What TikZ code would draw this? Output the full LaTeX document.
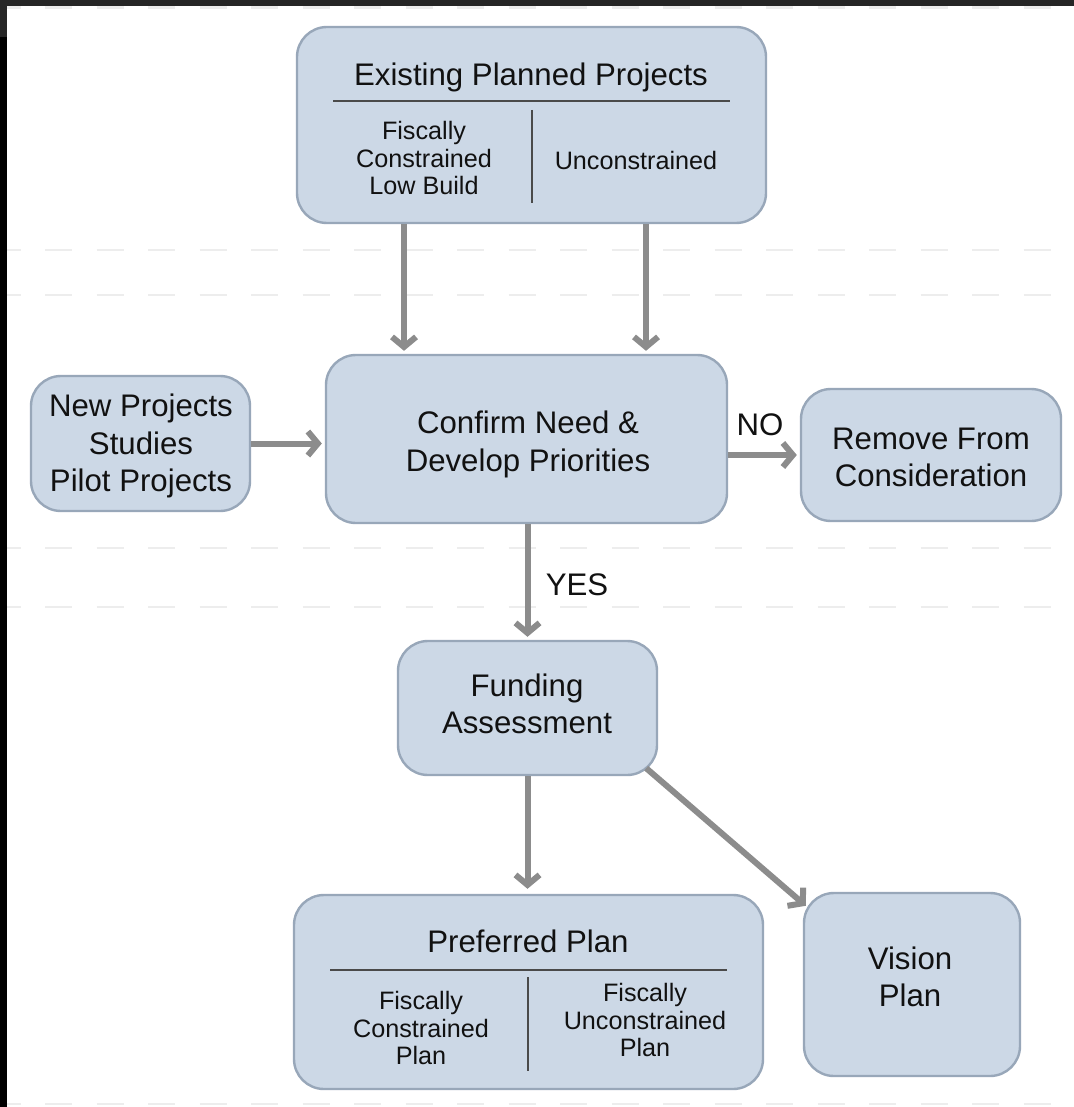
\documentclass[tikz,border=0pt]{standalone}
\usepackage{fontspec}
\setmainfont{Liberation Sans}
\usetikzlibrary{arrows.meta,calc}
\definecolor{boxfill}{HTML}{CCD8E6}
\definecolor{boxedge}{HTML}{98A7B9}
\definecolor{arrgray}{HTML}{8C8C8C}
\definecolor{txt}{HTML}{111111}
\definecolor{dashc}{HTML}{EDEDED}
\definecolor{divline}{HTML}{4A4A4A}
\definecolor{framec}{HTML}{262626}
\begin{document}
\begin{tikzpicture}[x=0.5pt,y=-0.5pt,
  box/.style={draw=boxedge,line width=1.2pt,fill=boxfill,rounded corners=15pt,inner sep=0pt},
  maintext/.style={font=\fontsize{15.6}{18.8}\selectfont,text=txt,align=center,inner sep=0pt},
  subtext/.style={font=\fontsize{12.6}{13.6}\selectfont,text=txt,align=center,inner sep=0pt},
  arr/.style={draw=arrgray,line width=3pt,-{Straight Barb[length=5pt,width=12pt]}},
  divider/.style={draw=divline,line width=1pt},
  bgdash/.style={draw=dashc,line width=1.2pt,dash pattern=on 13.5pt off 12.25pt},
]
\useasboundingbox (0,0) rectangle (1074,1107);
\fill[white] (0,0) rectangle (1074,1107);
% background dashed guide lines
\foreach \yy in {7.5,250,295,548,607,1104}{
  \draw[bgdash] (-6.5,\yy) -- (1074,\yy);
}
% frame
\fill[framec] (0,0) rectangle (1074,6);
\fill[framec] (0,0) rectangle (7,37);
\fill[black] (0,37) rectangle (7,1107);

% boxes
\node[box,minimum width=234.5pt,minimum height=98pt] (exist) at (531.5,125) {};
\node[maintext] (existtitle) at (531,77) {Existing Planned Projects};
\draw[divider] (333,101) -- (730,101);
\draw[divider] (532,110) -- (532,203);
\node[subtext] (existleft) at (424,158) {Fiscally\\Constrained\\Low Build};
\node[subtext] (existright) at (636,160) {Unconstrained};

\node[box,minimum width=200.5pt,minimum height=84pt] (confirm) at (526.5,439) {};
\node[maintext] (confirmtxt) at (528,444.5) {Confirm Need \&\\Develop Priorities};
\node[box,minimum width=109.5pt,minimum height=67.5pt] (newp) at (140.5,443.5) {};
\node[maintext] (newptxt) at (141,446) {New Projects\\Studies\\Pilot Projects};
\node[box,minimum width=130pt,minimum height=66pt] (remove) at (931,455) {};
\node[maintext] (removetxt) at (931,457.5) {Remove From\\Consideration};
\node[box,minimum width=129.5pt,minimum height=67pt] (funding) at (527.5,708) {};
\node[maintext] (fundtxt) at (527,704) {Funding\\Assessment};

\node[box,minimum width=234.5pt,minimum height=97pt] (pref) at (528.5,992) {};
\node[maintext] (preftitle) at (528,941) {Preferred Plan};
\draw[divider] (330,970) -- (727,970);
\draw[divider] (528,977) -- (528,1071);
\node[subtext] (prefleft) at (421,1028) {Fiscally\\Constrained\\Plan};
\node[subtext] (prefright) at (645,1020) {Fiscally\\Unconstrained\\Plan};

\node[box,minimum width=108pt,minimum height=91.5pt] (vision) at (912,984.5) {};
\node[maintext] (visiontxt) at (910,977) {Vision\\Plan};

% connectors
\coordinate (c1) at (404,0);
\coordinate (c2) at (646,0);
\draw[arr,shorten >=1.5pt] (exist.south -| c1) -- (confirm.north -| c1);
\draw[arr,shorten >=1.5pt] (exist.south -| c2) -- (confirm.north -| c2);
\draw[arr,shorten >=1.5pt] (newp.east) -- (confirm.west |- newp.east);
\draw[arr,shorten >=1.5pt] (confirm.east |- remove.west) -- (remove.west);
\node[maintext] (nolabel) at (760,425) {NO};
\draw[arr,shorten >=1.5pt] (confirm.south -| funding.north) -- (funding.north);
\node[maintext] (yeslabel) at (577,585) {YES};
\draw[arr,shorten >=2.5pt] (funding.south) -- (pref.north -| funding.south);
\coordinate (f1) at ($(funding.south east)+(-12,-8)$);
\coordinate (v1) at ($(vision.north west)+(3,14)$);
\draw[arr] (f1) -- (v1);
\end{tikzpicture}
\end{document}
